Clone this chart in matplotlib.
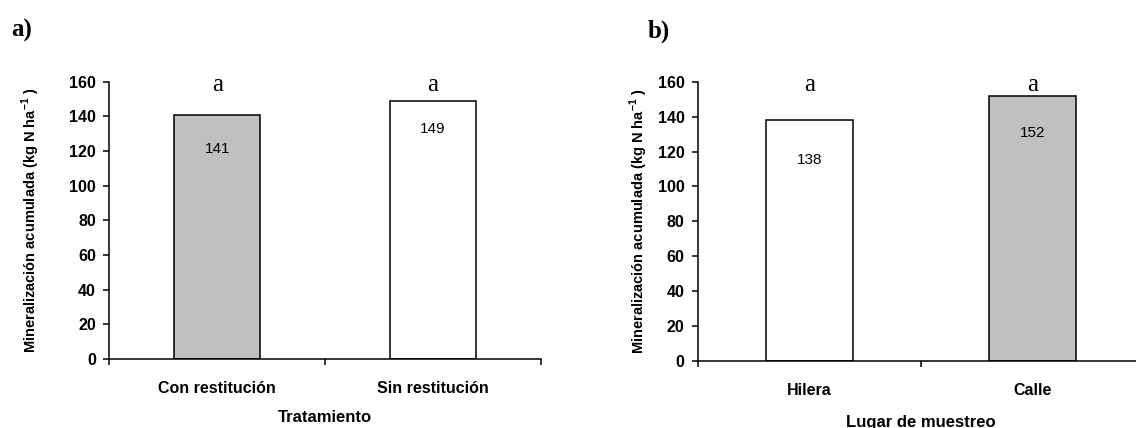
"""Cumulative N mineralization bars for two factors (treatment and sampling site)."""

import matplotlib.pyplot as plt

plt.rcParams["font.family"] = ["Liberation Sans", "DejaVu Sans"]
plt.rcParams["mathtext.fontset"] = "custom"
plt.rcParams["mathtext.rm"] = "Liberation Sans:bold"
plt.rcParams["mathtext.bf"] = "Liberation Sans:bold"

# Panel a: residue restitution treatment
treat_labels = ["Con restitución", "Sin restitución"]
treat_values = [141, 149]
treat_letters = ["a", "a"]

# Panel b: sampling location
site_labels = ["Hilera", "Calle"]
site_values = [138, 152]
site_letters = ["a", "a"]

GRAY = "#c0c0c0"
YLABEL = "Mineralización acumulada (kg N ha$^{-1}$ )"


def draw_panel(ax, labels, values, letters, colors, xlabel, width, label_drop,
               ylabel_x, xlabel_pad):
    x = range(len(values))
    bars = ax.bar(x, values, width=width, color=colors, edgecolor="black",
                  linewidth=1.1, zorder=2)
    for bar, val, letter, drop in zip(bars, values, letters, label_drop):
        cx = bar.get_x() + bar.get_width() / 2
        ax.annotate(f"{val}", (cx, val), xytext=(0, -drop), textcoords="offset pixels",
                    ha="center", va="center", fontsize=11)
        ax.text(cx, 158, letter, ha="center", va="center", fontsize=18,
                family="Liberation Serif")

    ax.set_ylim(0, 160)
    ax.set_xlim(-0.5, len(values) - 0.5)
    ax.set_yticks(range(0, 161, 20))
    ax.set_xticks(list(x))
    ax.set_xticklabels(labels, fontweight="bold", fontsize=11.5)
    ax.set_xticks([i - 0.5 for i in range(len(values) + 1)], minor=True)
    ax.tick_params(axis="x", which="major", length=0, pad=16)
    ax.tick_params(axis="x", which="minor", length=4.5, width=1.1, direction="out")
    ax.tick_params(axis="y", length=4.5, width=1.1, direction="out", pad=5)
    for t in ax.get_yticklabels():
        t.set_fontweight("bold")
        t.set_fontsize(11.5)
    for side in ("top", "right"):
        ax.spines[side].set_visible(False)
    for side in ("left", "bottom"):
        ax.spines[side].set_linewidth(1.1)
    ax.set_ylabel(YLABEL, fontweight="bold", fontsize=10.5)
    ax.yaxis.set_label_coords(ylabel_x, 0.5)
    ax.set_xlabel(xlabel, fontweight="bold", fontsize=12, labelpad=xlabel_pad)


fig = plt.figure(figsize=(11.36, 4.28), dpi=100)
ax_a = fig.add_axes([0.0962, 0.1612, 0.3800, 0.6479])
ax_b = fig.add_axes([0.6142, 0.1565, 0.3931, 0.6526])

draw_panel(ax_a, treat_labels, treat_values, treat_letters, [GRAY, "white"],
           "Tratamiento", 0.40, [34, 28], -0.155, 10)
draw_panel(ax_b, site_labels, site_values, site_letters, ["white", GRAY],
           "Lugar de muestreo", 0.39, [40, 37], -0.107, 12)

fig.text(0.010, 0.928, "a)", fontsize=18, fontweight="bold",
         family="Liberation Serif", ha="left", va="center")
fig.text(0.570, 0.928, "b)", fontsize=18, fontweight="bold",
         family="Liberation Serif", ha="left", va="center")

fig.savefig("out.png", dpi=100)
